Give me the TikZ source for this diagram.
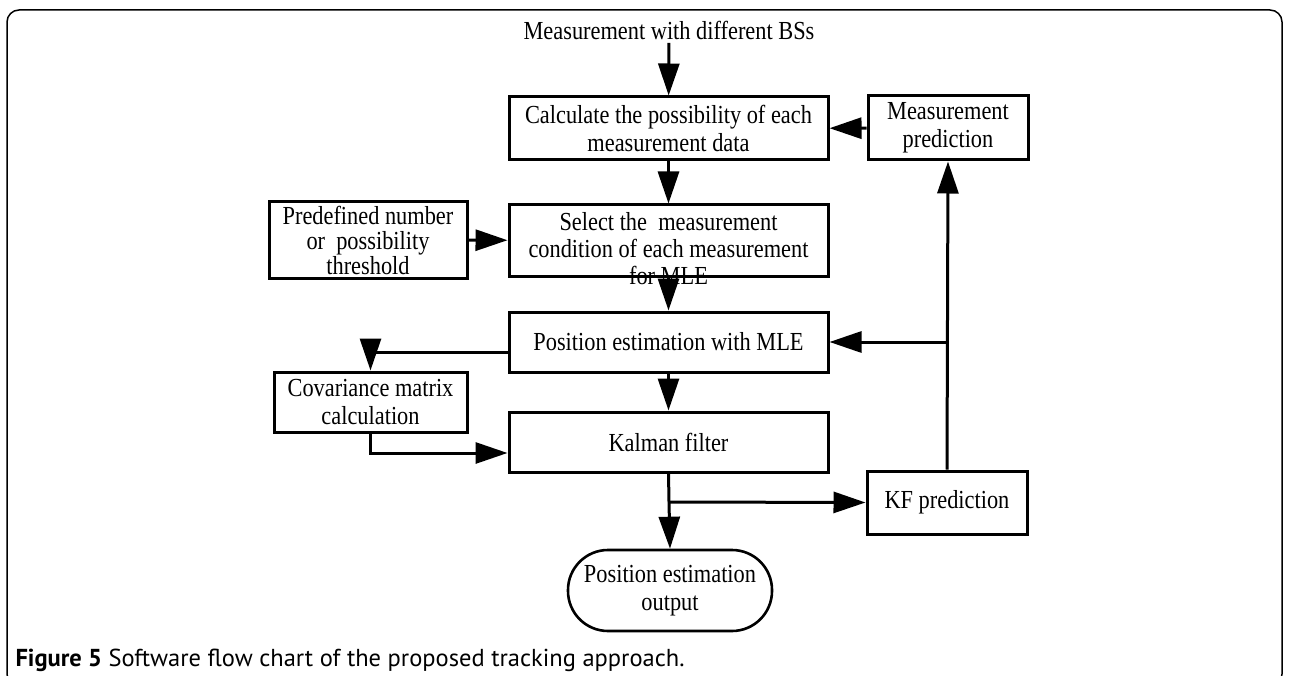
\documentclass[tikz,border=0pt]{standalone}
\usepackage{fontspec}
\setmainfont{Liberation Serif}[FakeStretch=0.86]
\newfontfamily\capfont{PT Sans}
\usetikzlibrary{positioning}
\usetikzlibrary{arrows.meta}

\begin{document}
\begin{tikzpicture}[x=1pt, y=-1pt,
    box/.style={draw, rectangle, line width=3pt, inner sep=0pt, align=center,
        font=\fontsize{26}{28}\selectfont},
    term/.style={draw, rectangle, rounded corners=40pt, line width=2.6pt, inner sep=0pt,
        align=center, font=\fontsize{26}{28}\selectfont},
    arr/.style={line width=3pt, -{Triangle[length=32pt, width=21pt]}},
    link/.style={line width=3pt}]
    \useasboundingbox (0,0) rectangle (1289,676);
    % outer frame
    \draw[line width=1.5pt, rounded corners=12pt] (7,10) rectangle (1282,686);

    % main column
    \node[font=\fontsize{26}{28}\selectfont] (meas) at (669,30) {Measurement with different BSs};
    \node[box, minimum width=319, minimum height=63] (calc) at (668.5,128.5)
        {Calculate the possibility of each\\measurement data};
    \node[box, minimum width=319, minimum height=71,
        label={[align=center, yshift=-8pt, font=\fontsize{26}{27}\selectfont]center:Select the\ \ measurement\\condition of each measurement\\for MLE}]
        (select) at (668.5,240.5) {};
    \node[box, minimum width=319, minimum height=60] (posest) at (668.5,342) {Position estimation with MLE};
    \node[box, minimum width=319, minimum height=60] (kalman) at (668.5,442) {Kalman filter};
    \node[term, minimum width=204, minimum height=81] (output) at (670,590.5) {Position estimation\\output};

    % side boxes
    \node[box, minimum width=160, minimum height=64] (mpred) at (948,128) {Measurement\\prediction};
    \node[box, minimum width=198, minimum height=77, font=\fontsize{26}{25}\selectfont] (predef) at (368,240)
        {Predefined number\\or\ \ possibility\\threshold};
    \node[box, minimum width=193, minimum height=60] (cov) at (370.5,402) {Covariance matrix\\calculation};
    \node[box, minimum width=160, minimum height=63] (kfpred) at (947,502.5) {KF prediction};

    \coordinate (split) at (669,502);
    \coordinate (join) at (947,342);

    % connectors
    \draw[arr] (meas) -- (calc);
    \draw[arr] (calc) -- (select);
    \draw[arr] (select) -- (posest);
    \draw[arr] (posest) -- (kalman);
    \draw[arr] (mpred) -- (calc);
    \draw[arr] (predef) -- (select);
    \draw[arr] ([yshift=-10pt]posest.west) -| (cov.north);
    \draw[arr] (cov.south) |- ([yshift=-11pt]kalman.west);
    \draw[link] (kalman.south) -- (split);
    \draw[arr] (split) -- (output.north);
    \draw[arr] (split) -- (kfpred.west);
    \draw[arr] (kfpred.north) -- (mpred.south);
    \draw[arr] (join) -- (posest.east);

    % caption
    \node[anchor=base west, font=\capfont\fontsize{24.5}{28}\selectfont] (caption) at (12,666)
        {\textbf{Figure 5} Software flow chart of the proposed tracking approach.};
\end{tikzpicture}
\end{document}
